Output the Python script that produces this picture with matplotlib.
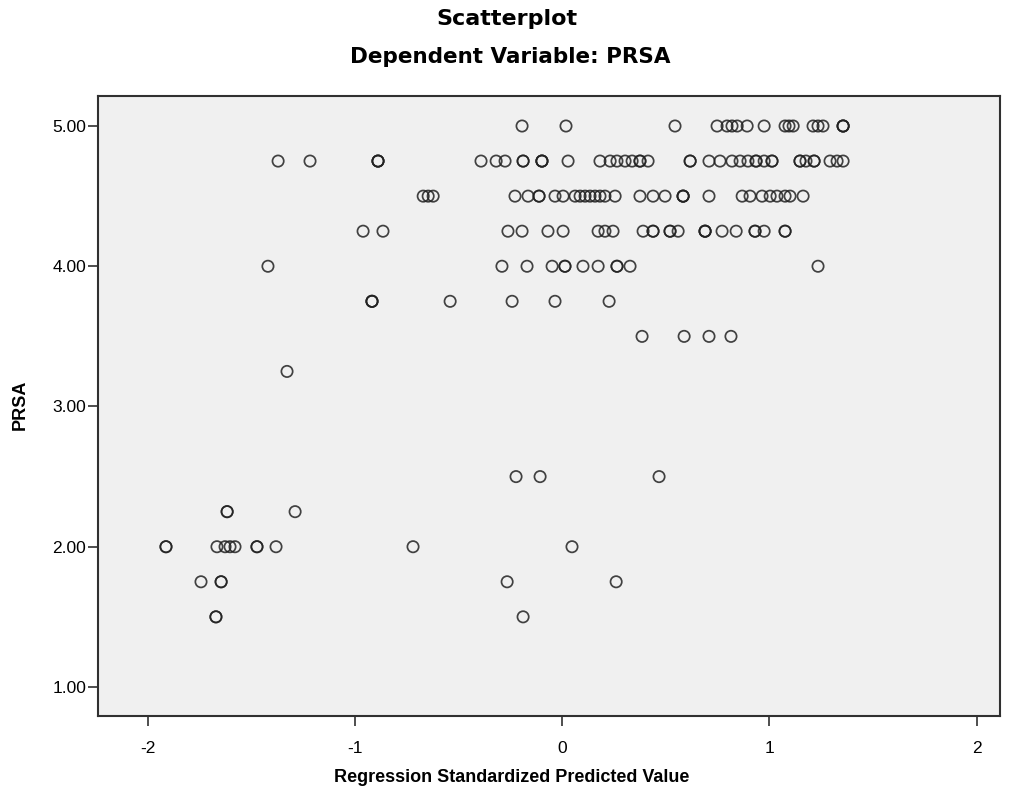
import matplotlib.pyplot as plt
import numpy as np

# predicted values (x) grouped by observed PRSA (y)
prsa_levels = [5.00, 4.75, 4.50, 4.25, 4.00, 3.75, 3.50, 3.25, 2.50, 2.25, 2.00, 1.75, 1.50]
pred_500 = [-0.193, 0.019, 0.545, 0.748, 0.796, 0.820, 0.845, 0.893, 0.975,
            1.076, 1.095, 1.115, 1.211, 1.235, 1.259, 1.356, 1.356, 1.356]
pred_475 = [-1.370, -1.216, -0.888, -0.888, -0.888, -0.391, -0.318, -0.275,
            -0.188, -0.188, -0.097, -0.097, -0.097, 0.029, 0.183, 0.232, 0.265,
            0.304, 0.338, 0.376, 0.376, 0.415, 0.618, 0.618, 0.709, 0.762, 0.820,
            0.859, 0.897, 0.936, 0.936, 0.975, 1.013, 1.013, 1.148, 1.148, 1.177,
            1.216, 1.216, 1.293, 1.327, 1.356]
pred_450 = [-0.670, -0.646, -0.622, -0.227, -0.164, -0.111, -0.111, -0.034,
            0.005, 0.063, 0.087, 0.111, 0.135, 0.159, 0.183, 0.207, 0.256, 0.376,
            0.439, 0.497, 0.584, 0.584, 0.584, 0.709, 0.869, 0.907, 0.965, 1.004,
            1.037, 1.076, 1.100, 1.163]
pred_425 = [-0.960, -0.864, -0.261, -0.193, -0.068, 0.005, 0.174, 0.207, 0.246,
            0.391, 0.439, 0.439, 0.521, 0.521, 0.560, 0.690, 0.690, 0.690, 0.772,
            0.840, 0.931, 0.931, 0.975, 1.076, 1.076]
pred_400 = [-1.419, -0.290, -0.169, -0.048, 0.014, 0.014, 0.101, 0.174, 0.265,
            0.265, 0.328, 1.235]
pred_375 = [-0.917, -0.917, -0.917, -0.540, -0.241, -0.034, 0.227]
pred_350 = [0.386, 0.589, 0.709, 0.815]
pred_325 = [-1.327]
pred_250 = [-0.222, -0.106, 0.468]
pred_225 = [-1.616, -1.616, -1.288]
pred_200 = [-1.911, -1.911, -1.665, -1.626, -1.602, -1.578, -1.472, -1.472,
            -1.380, -0.719, 0.048]
pred_175 = [-1.742, -1.645, -1.645, -0.265, 0.261]
pred_150 = [-1.670, -1.670, -0.188]

x_ticks = [-2, -1, 0, 1, 2]
y_ticks = [1.00, 2.00, 3.00, 4.00, 5.00]


def plot_graph():
    groups = [pred_500, pred_475, pred_450, pred_425, pred_400, pred_375,
              pred_350, pred_325, pred_250, pred_225, pred_200, pred_175, pred_150]
    xs = np.concatenate([np.array(g) for g in groups])
    ys = np.concatenate([np.full(len(g), lvl) for g, lvl in zip(groups, prsa_levels)])

    plt.rcParams['font.family'] = ['Liberation Sans', 'DejaVu Sans']
    fig = plt.figure(figsize=(10.14, 7.94), dpi=100)
    ax = fig.add_axes([98 / 1014, 78 / 794, 902 / 1014, 620 / 794])
    ax.set_facecolor('#f0f0f0')

    ax.scatter(xs, ys, s=66, facecolors='none', edgecolors='#222222',
               linewidths=1.25, alpha=0.85, zorder=3)

    ax.set_xlim(-2.239, 2.113)
    ax.set_ylim(0.793, 5.214)
    ax.set_xticks(x_ticks)
    ax.set_xticklabels([str(t) for t in x_ticks])
    ax.set_yticks(y_ticks)
    ax.set_yticklabels([f"{t:.2f}" for t in y_ticks])
    ax.tick_params(direction='out', length=7, width=1.2, labelsize=12.5,
                   color='#303030')
    ax.tick_params(axis='y', pad=1.5)
    ax.tick_params(axis='x', pad=11)
    for s in ax.spines.values():
        s.set_linewidth(1.5)
        s.set_color('#303030')

    # SPSS titles render wide, DejaVu Sans Bold matches their width best
    fig.text(0.5, 1 - 19 / 794, "Scatterplot", ha='center', va='center',
             fontsize=16, fontweight='bold', family='DejaVu Sans')
    fig.text(0.503, 1 - 57 / 794, "Dependent Variable: PRSA", ha='center', va='center',
             fontsize=15.5, fontweight='bold', family='DejaVu Sans')
    fig.text(0.505, 1 - 778 / 794, "Regression Standardized Predicted Value",
             ha='center', va='center', fontsize=13, fontweight='bold')
    fig.text(20 / 1014, 1 - 405 / 794, "PRSA", ha='center', va='center',
             rotation=90, fontsize=13, fontweight='bold')

    fig.savefig('out.png', dpi=100)


if __name__ == '__main__':
    plot_graph()
